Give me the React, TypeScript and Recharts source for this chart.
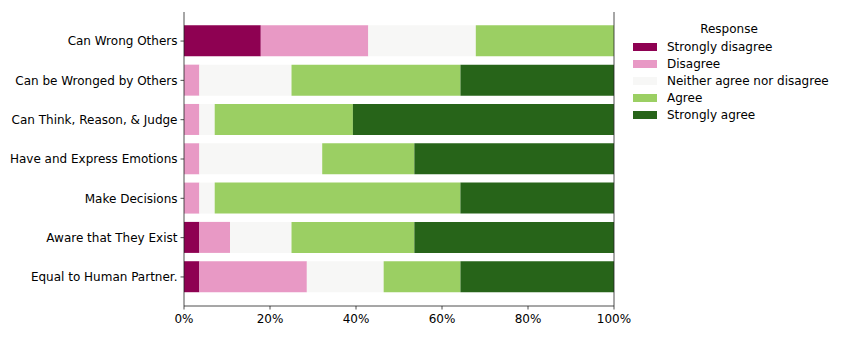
import { BarChart, Bar, XAxis, YAxis, ReferenceLine } from 'recharts';

const categories = [
  'Can Wrong Others',
  'Can be Wronged by Others',
  'Can Think, Reason, & Judge',
  'Have and Express Emotions',
  'Make Decisions',
  'Aware that They Exist',
  'Equal to Human Partner.',
];

const responses = ['Strongly disagree', 'Disagree', 'Neither agree nor disagree', 'Agree', 'Strongly agree'];
const colors = ['#8e0152', '#e899c5', '#f7f7f6', '#9bcf63', '#276419'];

// percent of respondents per category
const stronglyDisagree = [17.86, 0, 0, 0, 0, 3.57, 3.57];
const disagree = [25.0, 3.57, 3.57, 3.57, 3.57, 7.14, 25.0];
const neither = [25.0, 21.43, 3.57, 28.57, 3.57, 14.29, 17.86];
const agree = [32.14, 39.29, 32.14, 21.43, 57.14, 28.57, 17.86];
const stronglyAgree = [0, 35.71, 60.71, 46.43, 35.71, 46.43, 35.71];

const xTicks = [0, 20, 40, 60, 80, 100];

const keys = ['sd', 'd', 'n', 'a', 'sa'];

const data = categories.map((name, i) => ({
  name,
  sd: stronglyDisagree[i],
  d: disagree[i],
  n: neither[i],
  a: agree[i],
  sa: stronglyAgree[i],
}));

const font = 'DejaVu Sans, sans-serif';

// single-line tick so long category names don't wrap
function CategoryTick(props: any) {
  const { x, y, payload } = props;
  return (
    <text x={x} y={y} dy="0.355em" textAnchor="end" fill="#000" fontSize={12} fontFamily={font}>
      {payload.value}
    </text>
  );
}

function LegendBox() {
  return (
    <div style={{ position: 'absolute', left: 633, top: 21, width: 210, fontFamily: font, fontSize: 12, color: '#000' }}>
      <div style={{ textAlign: 'center', width: 192, height: 17, lineHeight: '17px' }}>Response</div>
      {responses.map((r, i) => (
        <div key={r} style={{ display: 'flex', alignItems: 'center', height: 17.2 }}>
          <span style={{ display: 'inline-block', width: 24, height: 8, background: colors[i], marginRight: 10 }} />
          <span style={{ whiteSpace: 'nowrap' }}>{r}</span>
        </div>
      ))}
    </div>
  );
}

export default function App() {
  return (
    <div style={{ position: 'absolute', left: 0, top: 0, width: 847, height: 339, background: '#fff' }}>
      <BarChart
        width={847}
        height={339}
        data={data}
        layout="vertical"
        margin={{ top: 12, right: 233, bottom: 0, left: 0 }}
        barCategoryGap="10%"
      >
        <XAxis
          type="number"
          domain={[0, 100]}
          ticks={xTicks}
          tickFormatter={(v) => `${v}%`}
          height={33}
          tickSize={3.5}
          tickMargin={5}
          axisLine={{ stroke: '#222', strokeWidth: 0.8 }}
          tickLine={{ stroke: '#222', strokeWidth: 0.8 }}
          tick={{ fill: '#000', fontSize: 12, fontFamily: font }}
          allowDataOverflow
        />
        <XAxis
          xAxisId="top"
          orientation="top"
          type="number"
          domain={[0, 100]}
          height={0}
          tick={false}
          tickLine={false}
          axisLine={{ stroke: '#222', strokeWidth: 0.8 }}
        />
        <YAxis
          type="category"
          dataKey="name"
          width={184}
          padding={{ top: 9.4, bottom: 9.4 }}
          tickSize={3.5}
          tickMargin={3}
          axisLine={{ stroke: '#222', strokeWidth: 0.8 }}
          tickLine={{ stroke: '#222', strokeWidth: 0.8 }}
          tick={<CategoryTick />}
          interval={0}
        />
        <ReferenceLine x={100} stroke="#222" strokeWidth={0.8} />
        {keys.map((k, i) => (
          <Bar key={k} dataKey={k} name={responses[i]} stackId="s" fill={colors[i]} isAnimationActive={false} />
        ))}
      </BarChart>
      <LegendBox />
    </div>
  );
}
